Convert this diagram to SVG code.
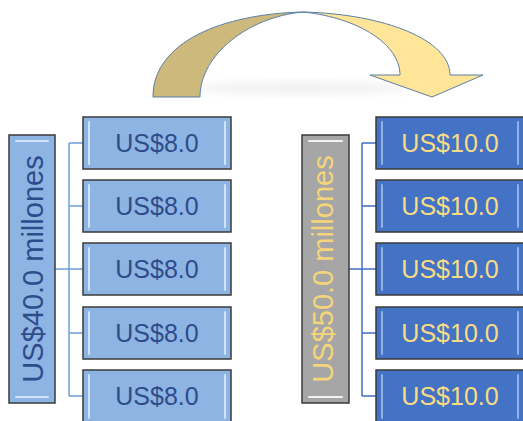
<svg xmlns="http://www.w3.org/2000/svg" width="523" height="421" viewBox="0 0 523 421">
<defs>
<style>
.lb{fill:#8DB4E2;stroke:#3A3A3A;stroke-width:1.5}
.rb{fill:#4472C4;stroke:#3A3A3A;stroke-width:1.5}
.gb{fill:#A6A6A6;stroke:#3A3A3A;stroke-width:1.5}
.hl{stroke:#DCEBFA;stroke-width:2;stroke-linecap:round;fill:none;opacity:0.85}
.hr{stroke:#9DB8EA;stroke-width:2;stroke-linecap:round;fill:none;opacity:0.9}
.hg{stroke:#F2F2F2;stroke-width:2;stroke-linecap:round;fill:none}
.lt{font-family:"Liberation Sans",Arial,sans-serif;font-size:25px;fill:#2E4C8C;text-anchor:middle}
.rt{font-family:"Liberation Sans",Arial,sans-serif;font-size:25px;fill:#F8DC84;text-anchor:middle}
.vt{font-family:"Liberation Sans",Arial,sans-serif;font-size:29px;text-anchor:middle}
.cl{stroke:#6F9FD8;stroke-width:1.5;fill:none}
.cr{stroke:#3F6FC4;stroke-width:1.5;fill:none}
</style>
<filter id="blur" x="-20%" y="-50%" width="140%" height="200%"><feGaussianBlur stdDeviation="4"/></filter>
</defs>

<g id="arrow">
<ellipse cx="300" cy="88" rx="110" ry="5" fill="#C8C8C8" opacity="0.3" filter="url(#blur)"/>
<path d="M153,97 C153,42 222,14 303,12 C248,17 200,55 200,97 Z" fill="#CDB97C" stroke="#5B7FA6" stroke-width="1"/>
<path d="M303,12 C385,14 450,40 450,75 L483,75 L432,97 L370,75 L400,75 C400,45 360,18 303,12 Z" fill="#FFE597" stroke="#5B7FA6" stroke-width="1"/>
</g>

<g id="connectors">
<path class="cl" d="M55,269 H69 M69,143 V396 M69,143 H83 M69,206 H83 M69,269 H83 M69,333 H83 M69,396 H83"/>
<path class="cr" d="M349,269 H362 M362,143 V396 M362,143 H376 M362,206 H376 M362,269 H376 M362,333 H376 M362,396 H376"/>
</g>

<g id="left-total">
<rect class="lb" x="9" y="135" width="46" height="268"/>
<path class="hl" d="M16,141 H48 M16,397 H48"/>
<text class="vt" fill="#2E4C8C" transform="translate(43,269) rotate(-90)">US$40.0 millones</text>
</g>
<g id="left-1"><rect class="lb" x="83" y="117" width="148" height="52"/><path class="hl" d="M89,122 V164 M225,122 V164"/><text class="lt" x="157" y="152">US$8.0</text></g>
<g id="left-2"><rect class="lb" x="83" y="180" width="148" height="52"/><path class="hl" d="M89,185 V227 M225,185 V227"/><text class="lt" x="157" y="215">US$8.0</text></g>
<g id="left-3"><rect class="lb" x="83" y="243" width="148" height="52"/><path class="hl" d="M89,248 V290 M225,248 V290"/><text class="lt" x="157" y="278">US$8.0</text></g>
<g id="left-4"><rect class="lb" x="83" y="307" width="148" height="52"/><path class="hl" d="M89,312 V354 M225,312 V354"/><text class="lt" x="157" y="342">US$8.0</text></g>
<g id="left-5"><rect class="lb" x="83" y="370" width="148" height="53"/><path class="hl" d="M89,375 V418 M225,375 V418"/><text class="lt" x="157" y="405">US$8.0</text></g>

<g id="right-total">
<rect class="gb" x="302" y="135" width="47" height="268"/>
<path class="hg" d="M309,141 H342 M309,397 H342"/>
<text class="vt" fill="#F5D57A" transform="translate(333,269) rotate(-90)">US$50.0 millones</text>
</g>
<g id="right-1"><rect class="rb" x="376" y="117" width="148" height="52"/><path class="hr" d="M382,122 V164 M518,122 V164"/><text class="rt" x="450" y="152">US$10.0</text></g>
<g id="right-2"><rect class="rb" x="376" y="180" width="148" height="52"/><path class="hr" d="M382,185 V227 M518,185 V227"/><text class="rt" x="450" y="215">US$10.0</text></g>
<g id="right-3"><rect class="rb" x="376" y="243" width="148" height="52"/><path class="hr" d="M382,248 V290 M518,248 V290"/><text class="rt" x="450" y="278">US$10.0</text></g>
<g id="right-4"><rect class="rb" x="376" y="307" width="148" height="52"/><path class="hr" d="M382,312 V354 M518,312 V354"/><text class="rt" x="450" y="342">US$10.0</text></g>
<g id="right-5"><rect class="rb" x="376" y="370" width="148" height="53"/><path class="hr" d="M382,375 V418 M518,375 V418"/><text class="rt" x="450" y="405">US$10.0</text></g>
</svg>
